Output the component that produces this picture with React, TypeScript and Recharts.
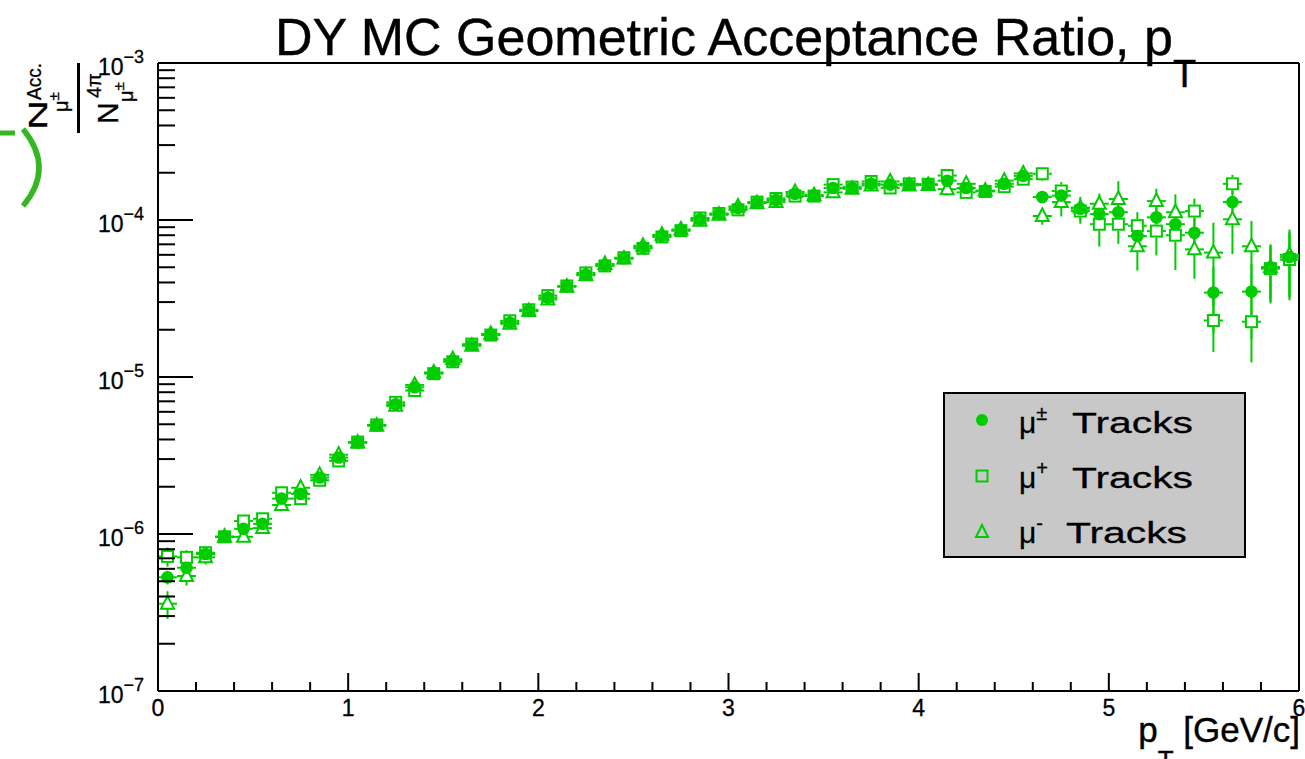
import React from 'react';
import { ScatterChart, Scatter, XAxis, YAxis, ErrorBar, ReferenceLine } from 'recharts';

// Bin centres of p_T [GeV/c]
const PT = [
  0.05, 0.15, 0.25, 0.35, 0.45, 0.55, 0.65, 0.75, 0.85, 0.95,
  1.05, 1.15, 1.25, 1.35, 1.45, 1.55, 1.65, 1.75, 1.85, 1.95,
  2.05, 2.15, 2.25, 2.35, 2.45, 2.55, 2.65, 2.75, 2.85, 2.95,
  3.05, 3.15, 3.25, 3.35, 3.45, 3.55, 3.65, 3.75, 3.85, 3.95,
  4.05, 4.15, 4.25, 4.35, 4.45, 4.55, 4.65, 4.75, 4.85, 4.95,
  5.05, 5.15, 5.25, 5.35, 5.45, 5.55, 5.65, 5.75, 5.85, 5.95,
];

// mu+- tracks
const ACC_PM = [
  5.3e-7, 6.1e-7, 7.45e-7, 9.6e-7, 1.08e-6, 1.16e-6, 1.68e-6, 1.8e-6, 2.29e-6, 3.07e-6,
  3.83e-6, 4.92e-6, 6.7e-6, 8.6e-6, 1.06e-5, 1.27e-5, 1.6e-5, 1.86e-5, 2.22e-5, 2.65e-5,
  3.2e-5, 3.78e-5, 4.5e-5, 5.15e-5, 5.7e-5, 6.7e-5, 7.9e-5, 8.6e-5, 1.01e-4, 1.09e-4,
  1.19e-4, 1.29e-4, 1.34e-4, 1.47e-4, 1.43e-4, 1.6e-4, 1.6e-4, 1.7e-4, 1.68e-4, 1.68e-4,
  1.68e-4, 1.78e-4, 1.6e-4, 1.53e-4, 1.7e-4, 1.91e-4, 1.4e-4, 1.43e-4, 1.18e-4, 1.09e-4,
  1.12e-4, 7.9e-5, 1.04e-4, 9.4e-5, 8.3e-5, 3.45e-5, 1.3e-4, 3.5e-5, 5.0e-5, 5.8e-5,
];

// mu+ tracks
const ACC_P = [
  7.2e-7, 7.1e-7, 7.6e-7, 9.6e-7, 1.21e-6, 1.25e-6, 1.83e-6, 1.68e-6, 2.2e-6, 2.92e-6,
  3.85e-6, 4.95e-6, 6.9e-6, 8.2e-6, 1.05e-5, 1.25e-5, 1.62e-5, 1.85e-5, 2.28e-5, 2.68e-5,
  3.3e-5, 3.8e-5, 4.6e-5, 5.1e-5, 5.75e-5, 6.6e-5, 7.8e-5, 8.55e-5, 1.03e-4, 1.1e-4,
  1.16e-4, 1.3e-4, 1.37e-4, 1.42e-4, 1.42e-4, 1.68e-4, 1.62e-4, 1.76e-4, 1.6e-4, 1.7e-4,
  1.69e-4, 1.92e-4, 1.5e-4, 1.52e-4, 1.63e-4, 1.82e-4, 1.97e-4, 1.53e-4, 1.14e-4, 9.4e-5,
  9.4e-5, 9.2e-5, 8.5e-5, 8.0e-5, 1.14e-4, 2.29e-5, 1.7e-4, 2.25e-5, 4.9e-5, 5.6e-5,
];

// mu- tracks
const ACC_M = [
  3.6e-7, 5.4e-7, 7.1e-7, 9.6e-7, 9.6e-7, 1.09e-6, 1.53e-6, 1.97e-6, 2.38e-6, 3.2e-6,
  3.82e-6, 4.9e-6, 6.55e-6, 8.9e-6, 1.07e-5, 1.3e-5, 1.58e-5, 1.88e-5, 2.18e-5, 2.63e-5,
  3.12e-5, 3.76e-5, 4.45e-5, 5.25e-5, 5.68e-5, 6.85e-5, 8.05e-5, 8.7e-5, 9.9e-5, 1.08e-4,
  1.22e-4, 1.28e-4, 1.3e-4, 1.51e-4, 1.44e-4, 1.5e-4, 1.58e-4, 1.66e-4, 1.76e-4, 1.66e-4,
  1.67e-4, 1.57e-4, 1.7e-4, 1.54e-4, 1.78e-4, 1.98e-4, 1.06e-4, 1.3e-4, 1.2e-4, 1.27e-4,
  1.36e-4, 6.8e-5, 1.32e-4, 1.12e-4, 6.5e-5, 6.2e-5, 1.01e-4, 6.8e-5, 5.0e-5, 6.0e-5,
];

// relative statistical errors
const REL_ERR_PM = [
  0.10, 0.08, 0.07, 0.05, 0.05, 0.05, 0.045, 0.045, 0.04, 0.04,
  0.035, 0.035, 0.03, 0.03, 0.03, 0.03, 0.03, 0.03, 0.03, 0.03,
  0.03, 0.03, 0.03, 0.03, 0.03, 0.03, 0.03, 0.03, 0.03, 0.03,
  0.03, 0.03, 0.03, 0.035, 0.035, 0.035, 0.04, 0.04, 0.04, 0.045,
  0.045, 0.05, 0.05, 0.055, 0.06, 0.065, 0.08, 0.1, 0.12, 0.15,
  0.16, 0.2, 0.18, 0.22, 0.25, 0.45, 0.25, 0.5, 0.37, 0.45,
];
const REL_ERR_P = [
  0.14, 0.11, 0.09, 0.07, 0.07, 0.07, 0.065, 0.06, 0.055, 0.05,
  0.05, 0.045, 0.045, 0.04, 0.04, 0.04, 0.04, 0.04, 0.04, 0.04,
  0.04, 0.04, 0.04, 0.04, 0.04, 0.04, 0.04, 0.04, 0.04, 0.04,
  0.04, 0.045, 0.045, 0.045, 0.05, 0.05, 0.05, 0.055, 0.055, 0.06,
  0.06, 0.065, 0.07, 0.075, 0.08, 0.09, 0.1, 0.14, 0.17, 0.28,
  0.25, 0.22, 0.3, 0.4, 0.2, 0.37, 0.14, 0.45, 0.4, 0.45,
];
const REL_ERR_M = [
  0.2, 0.13, 0.1, 0.07, 0.07, 0.07, 0.065, 0.06, 0.055, 0.05,
  0.05, 0.045, 0.045, 0.04, 0.04, 0.04, 0.04, 0.04, 0.04, 0.04,
  0.04, 0.04, 0.04, 0.04, 0.04, 0.04, 0.04, 0.04, 0.04, 0.04,
  0.04, 0.045, 0.045, 0.045, 0.05, 0.05, 0.05, 0.055, 0.055, 0.06,
  0.06, 0.065, 0.07, 0.075, 0.08, 0.09, 0.12, 0.19, 0.17, 0.16,
  0.3, 0.3, 0.2, 0.3, 0.35, 0.55, 0.4, 0.45, 0.4, 0.45,
];

const BIN_HALF_WIDTH = 0.05;

const X_TICKS = [
  0, 0.2, 0.4, 0.6, 0.8, 1, 1.2, 1.4, 1.6, 1.8, 2, 2.2, 2.4, 2.6, 2.8, 3,
  3.2, 3.4, 3.6, 3.8, 4, 4.2, 4.4, 4.6, 4.8, 5, 5.2, 5.4, 5.6, 5.8, 6,
];
const Y_TICKS = [
  1e-7, 2e-7, 3e-7, 4e-7, 5e-7, 6e-7, 7e-7, 8e-7, 9e-7,
  1e-6, 2e-6, 3e-6, 4e-6, 5e-6, 6e-6, 7e-6, 8e-6, 9e-6,
  1e-5, 2e-5, 3e-5, 4e-5, 5e-5, 6e-5, 7e-5, 8e-5, 9e-5,
  1e-4, 2e-4, 3e-4, 4e-4, 5e-4, 6e-4, 7e-4, 8e-4, 9e-4,
  1e-3,
];

const LEGEND_LABELS = ['±', '+', '-'];

const buildSeries = (vals: number[], rel: number[]) =>
  PT.map((x, i) => ({ x, y: vals[i], ey: vals[i] * rel[i], ex: BIN_HALF_WIDTH }));

const SERIES_PM = buildSeries(ACC_PM, REL_ERR_PM);
const SERIES_P = buildSeries(ACC_P, REL_ERR_P);
const SERIES_M = buildSeries(ACC_M, REL_ERR_M);

const GREEN = '#00cc00';
const FONT = '"Liberation Sans", Arial, Helvetica, sans-serif';

const emptyShape = () => <g />;
const squareMask = (p: any) => (
  <rect x={p.cx - 6.5} y={p.cy - 6.5} width={13} height={13} fill="#fff" />
);
const squareShape = (p: any) => (
  <rect x={p.cx - 5.5} y={p.cy - 5.5} width={11} height={11} fill="none" stroke={GREEN} strokeWidth={2} />
);
const triD = (cx: number, cy: number) =>
  `M${cx},${cy - 7.5} L${cx + 6.5},${cy + 5} L${cx - 6.5},${cy + 5} Z`;
const triMask = (p: any) => <path d={triD(p.cx, p.cy)} fill="#fff" />;
const triShape = (p: any) => (
  <path d={triD(p.cx, p.cy)} fill="none" stroke={GREEN} strokeWidth={2} strokeLinejoin="miter" />
);
const circleShape = (p: any) => <circle cx={p.cx} cy={p.cy} r={6.3} fill={GREEN} />;

const XTick = (props: any) => {
  const { x, y, payload } = props;
  const v = payload.value;
  const major = Math.abs(v - Math.round(v)) < 1e-6;
  return (
    <g>
      <line x1={x} x2={x} y1={y} y2={y - (major ? 18 : 9)} stroke="#000" strokeWidth={2} />
      {major && (
        <text x={x} y={y + 25} textAnchor="middle" fontSize={23} fontFamily={FONT} fill="#000" stroke="#000" strokeWidth={0.3}>
          {Math.round(v)}
        </text>
      )}
    </g>
  );
};

const YTick = (props: any) => {
  const { x, y, payload } = props;
  const v = payload.value;
  const lg = Math.log10(v);
  const major = Math.abs(lg - Math.round(lg)) < 1e-6;
  return (
    <g>
      <line x1={x} x2={x + (major ? 35 : 17)} y1={y} y2={y} stroke="#000" strokeWidth={2} />
      {major && (
        <text x={x - 14} y={y + 12} textAnchor="end" fontSize={23} fontFamily={FONT} fill="#000" stroke="#000" strokeWidth={0.3}>
          10
          <tspan dy={-12} fontSize={18}>{'\u2212' + String(-Math.round(lg))}</tspan>
        </text>
      )}
    </g>
  );
};

const errBars = (
  <>
    <ErrorBar dataKey="ey" direction="y" width={0} stroke={GREEN} strokeWidth={2} />
    <ErrorBar dataKey="ex" direction="x" width={0} stroke={GREEN} strokeWidth={2} />
  </>
);

const LegendMarker = ({ i }: { i: number }) => {
  const cy = 420 + i * 56;
  if (i === 0) return <circle cx={982} cy={cy} r={6} fill={GREEN} />;
  if (i === 1) return <rect x={976.5} y={cy - 5.5} width={11} height={11} fill="none" stroke={GREEN} strokeWidth={2} />;
  return <path d={`M982,${cy - 7} L988,${cy + 5} L976,${cy + 5} Z`} fill="none" stroke={GREEN} strokeWidth={2} />;
};

const Overlay = () => (
  <svg
    width={1305}
    height={759}
    style={{ position: 'absolute', left: 0, top: 0, pointerEvents: 'none' }}
    fontFamily={FONT}
  >
    {/* title */}
    <text x={275} y={55} fontSize={52} fill="#000" stroke="#000" strokeWidth={0.4}>
      DY MC Geometric Acceptance Ratio, p
      <tspan dy={32} fontSize={38}>T</tspan>
    </text>
    {/* x axis title */}
    <text x={1300} y={742} fontSize={35} textAnchor="end" fill="#000" stroke="#000" strokeWidth={0.4}>
      p<tspan dy={27} fontSize={26}>T</tspan>
      <tspan dy={-27}> [GeV/c]</tspan>
    </text>
    {/* y axis title (rotated fraction) */}
    <g fill="#000" stroke="#000" strokeWidth={0.3}>
      <text transform="translate(47,130) rotate(-90)" fontSize={25} textLength={30} lengthAdjust="spacingAndGlyphs">N</text>
      <text transform="translate(41,100) rotate(-90)" fontSize={20} textLength={37} lengthAdjust="spacingAndGlyphs">Acc.</text>
      <text transform="translate(68,112) rotate(-90)" fontSize={20}>
        μ<tspan dy={-9} fontSize={15}>±</tspan>
      </text>
      <text transform="translate(118,124) rotate(-90)" fontSize={30}>N</text>
      <text transform="translate(101,98) rotate(-90)" fontSize={20}>4π</text>
      <text transform="translate(133,102) rotate(-90)" fontSize={20}>
        μ<tspan dy={-9} fontSize={15}>±</tspan>
      </text>
    </g>
    <line x1={78.5} x2={78.5} y1={63} y2={133} stroke="#000" strokeWidth={3} />
    {/* clipped green residue at the left */}
    <line x1={0} x2={15} y1={133} y2={133} stroke="#33b822" strokeWidth={5} />
    <path d="M23,129 Q55,168 23,206" fill="none" stroke="#33b822" strokeWidth={5.5} />
    {/* legend */}
    <rect x={944} y={393} width={301} height={164} fill="#c8c8c8" stroke="#000" strokeWidth={2} />
    {LEGEND_LABELS.map((lab, i) => (
      <g key={lab}>
        <LegendMarker i={i} />
        <text x={1019} y={433 + i * 55} fontSize={30} fill="#000" stroke="#000" strokeWidth={0.3}>
          μ<tspan dy={-13} fontSize={20}>{lab}</tspan>
        </text>
        <text
          x={i === 2 ? 1066 : 1072}
          y={433 + i * 55}
          fontSize={30}
          textLength={121}
          lengthAdjust="spacingAndGlyphs"
          fill="#000"
          stroke="#000"
          strokeWidth={0.3}
        >
          Tracks
        </text>
      </g>
    ))}
  </svg>
);

export default function App() {
  return (
    <div style={{ position: 'absolute', left: 0, top: 0, width: 1305, height: 759, background: '#fff', overflow: 'hidden' }}>
      <ScatterChart width={1305} height={759} margin={{ top: 63, right: 6, bottom: 0, left: 0 }}>
        <XAxis
          type="number"
          dataKey="x"
          domain={[0, 6]}
          ticks={X_TICKS}
          interval={0}
          allowDataOverflow
          tickLine={false}
          tickSize={0}
          tickMargin={0}
          height={68}
          axisLine={{ stroke: '#000', strokeWidth: 2 }}
          tick={<XTick />}
        />
        <YAxis
          type="number"
          dataKey="y"
          scale="log"
          domain={[1e-7, 1e-3]}
          ticks={Y_TICKS}
          interval={0}
          allowDataOverflow
          tickLine={false}
          tickSize={0}
          tickMargin={0}
          width={158}
          axisLine={{ stroke: '#000', strokeWidth: 2 }}
          tick={<YTick />}
        />
        <ReferenceLine y={1e-3} stroke="#000" strokeWidth={2} />
        <ReferenceLine x={6} stroke="#000" strokeWidth={2} />
        <Scatter name="errP" data={SERIES_P} shape={emptyShape} isAnimationActive={false}>{errBars}</Scatter>
        <Scatter name="errM" data={SERIES_M} shape={emptyShape} isAnimationActive={false}>{errBars}</Scatter>
        <Scatter name="errPM" data={SERIES_PM} shape={emptyShape} isAnimationActive={false}>{errBars}</Scatter>
        <Scatter name="maskP" data={SERIES_P} shape={squareMask} isAnimationActive={false} />
        <Scatter name="maskM" data={SERIES_M} shape={triMask} isAnimationActive={false} />
        <Scatter name="μ+ Tracks" data={SERIES_P} shape={squareShape} isAnimationActive={false} />
        <Scatter name="μ- Tracks" data={SERIES_M} shape={triShape} isAnimationActive={false} />
        <Scatter name="μ± Tracks" data={SERIES_PM} shape={circleShape} isAnimationActive={false} />
      </ScatterChart>
      <Overlay />
    </div>
  );
}
